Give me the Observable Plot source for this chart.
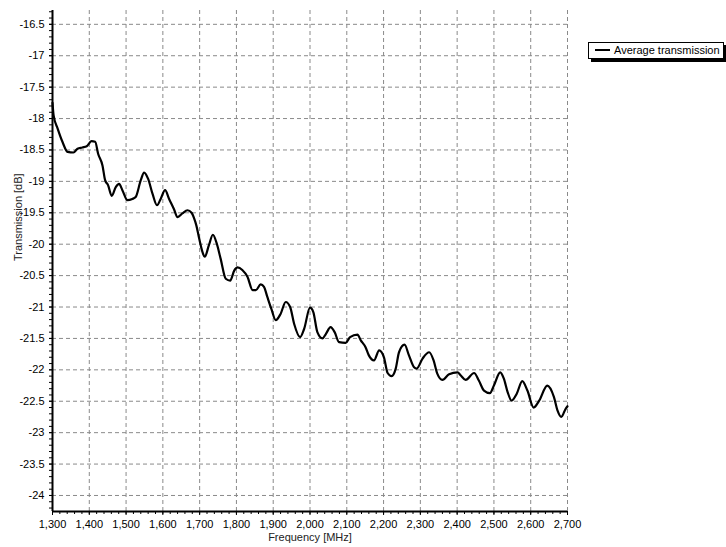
<!DOCTYPE html>
<html>
<head>
<meta charset="utf-8">
<script src="https://cdn.jsdelivr.net/npm/d3@7"></script>
<script src="https://cdn.jsdelivr.net/npm/@observablehq/plot@0.6"></script>
<style>
  html, body { margin: 0; padding: 0; background: #fff; }
  #wrap { position: relative; width: 726px; height: 547px; font-family: "Liberation Sans", Arial, sans-serif; }
  #legend {
    position: absolute; left: 588px; top: 42px; width: 134px; height: 15px;
    border: 1px solid #000; background: #fff; box-shadow: 3px 3px 0 #000;
    font-size: 11px; line-height: 15px; color: #000; white-space: nowrap;
  }
  #legend .swatch { display: inline-block; width: 15px; height: 0; border-top: 2px solid #000; vertical-align: middle; margin: 0 4px 2px 6px; }
</style>
</head>
<body>
<div id="wrap"></div>
<script>
// Measured average transmission (dB) versus frequency (MHz)
const frequency = [
  1300, 1303, 1314, 1327, 1341, 1357, 1368, 1381, 1393, 1406, 1416, 1424, 1436, 1443, 1451, 1461,
  1472, 1481, 1490, 1504, 1517, 1526, 1540, 1549, 1560, 1572, 1584, 1594, 1606, 1617, 1630, 1640,
  1653, 1667, 1678, 1685, 1691, 1698, 1708, 1714, 1725, 1736, 1746, 1757, 1771, 1783, 1794, 1803,
  1816, 1830, 1844, 1853, 1866, 1875, 1884, 1895, 1907, 1920, 1934, 1946, 1957, 1973, 1984, 2000,
  2009, 2020, 2034, 2043, 2056, 2067, 2079, 2097, 2109, 2129, 2138, 2151, 2160, 2174, 2188, 2201,
  2211, 2222, 2233, 2242, 2257, 2269, 2283, 2290, 2306, 2324, 2336, 2346, 2360, 2378, 2401, 2410,
  2423, 2446, 2459, 2473, 2489, 2500, 2517, 2527, 2537, 2548, 2562, 2577, 2591, 2608, 2623, 2645,
  2663, 2673, 2683, 2695, 2700
];
const transmission = [
  -17.75, -17.95, -18.16, -18.37, -18.53, -18.54, -18.48, -18.46, -18.44, -18.36, -18.37, -18.56, -18.75, -18.98, -19.06, -19.23,
  -19.09, -19.04, -19.14, -19.30, -19.28, -19.25, -18.98, -18.86, -18.96, -19.20, -19.38, -19.28, -19.14, -19.28, -19.44, -19.57,
  -19.51, -19.46, -19.50, -19.59, -19.70, -19.89, -20.13, -20.20, -20.02, -19.85, -19.98, -20.23, -20.55, -20.58, -20.42, -20.37,
  -20.41, -20.52, -20.73, -20.73, -20.64, -20.68, -20.84, -21.03, -21.21, -21.11, -20.92, -21.00, -21.27, -21.48, -21.35, -21.01,
  -21.08, -21.40, -21.50, -21.43, -21.32, -21.40, -21.56, -21.57, -21.48, -21.44, -21.53, -21.64, -21.77, -21.85, -21.69, -21.80,
  -22.05, -22.10, -21.98, -21.72, -21.60, -21.77, -21.96, -21.98, -21.82, -21.72, -21.85, -22.06, -22.16, -22.07, -22.04, -22.09,
  -22.16, -22.05, -22.17, -22.33, -22.37, -22.25, -22.04, -22.14, -22.35, -22.49, -22.38, -22.18, -22.33, -22.60, -22.49, -22.25,
  -22.43, -22.65, -22.75, -22.62, -22.58
];

// Axis ticks
const xTicks = d3.range(1300, 2701, 100);
const xMinor = d3.range(1300, 2701, 20);
const yTicks = d3.range(-24, -16.49, 0.5).map(v => +v.toFixed(1));
const yMinor = d3.range(-24.2, -16.29, 0.1).map(v => +v.toFixed(1));

const xDomain = [1300, 2700];
const yDomain = [-24.255, -16.28];

const series = frequency.map((f, i) => ({f, t: transmission[i]}));

const gridStyle = {stroke: "#8a8a8a", strokeOpacity: 1, strokeDasharray: "4,3", strokeWidth: 1};

const chart = Plot.plot({
  width: 726,
  height: 547,
  marginLeft: 52,
  marginRight: 159,
  marginTop: 10,
  marginBottom: 36,
  style: {fontFamily: "Liberation Sans, Arial, sans-serif", fontSize: "11px", color: "#000", background: "#fff"},
  x: {domain: xDomain, label: null},
  y: {domain: yDomain, label: null},
  marks: [
    Plot.gridX(xTicks.slice(1), gridStyle),
    Plot.gridY(yTicks, gridStyle),
    // minor ticks
    Plot.axisX(xMinor, {anchor: "bottom", tickSize: 3, tickFormat: () => "", strokeWidth: 1}),
    Plot.axisY(yMinor, {anchor: "left", tickSize: 3, tickFormat: () => "", strokeWidth: 1}),
    // labelled ticks
    Plot.axisX(xTicks, {anchor: "bottom", tickSize: 4, tickPadding: 5, tickFormat: d3.format(","), fill: "#000", fontSize: 11}),
    Plot.axisY(yTicks, {anchor: "left", tickSize: 3, tickPadding: 5, tickFormat: d => String(d), fill: "#000", fontSize: 11}),
    // frame lines
    Plot.ruleX([xDomain[0]], {stroke: "#000", strokeWidth: 2}),
    Plot.ruleY([yDomain[0]], {stroke: "#000", strokeWidth: 2}),
    // data
    Plot.line(series, {x: "f", y: "t", stroke: "#000", strokeWidth: 2.2, strokeLinejoin: "round", curve: "monotone-x"}),
    // axis titles
    Plot.text(["Frequency [MHz]"], {frameAnchor: "bottom", dy: 29, fill: "#222", fontSize: 11}),
    Plot.text(["Transmission [dB]"], {frameAnchor: "left", dx: -34, rotate: -90, fill: "#222", fontSize: 11})
  ]
});

const wrap = document.getElementById("wrap");
wrap.appendChild(chart);

const legend = document.createElement("div");
legend.id = "legend";
legend.innerHTML = '<span class="swatch"></span>Average transmission';
wrap.appendChild(legend);
</script>
</body>
</html>
